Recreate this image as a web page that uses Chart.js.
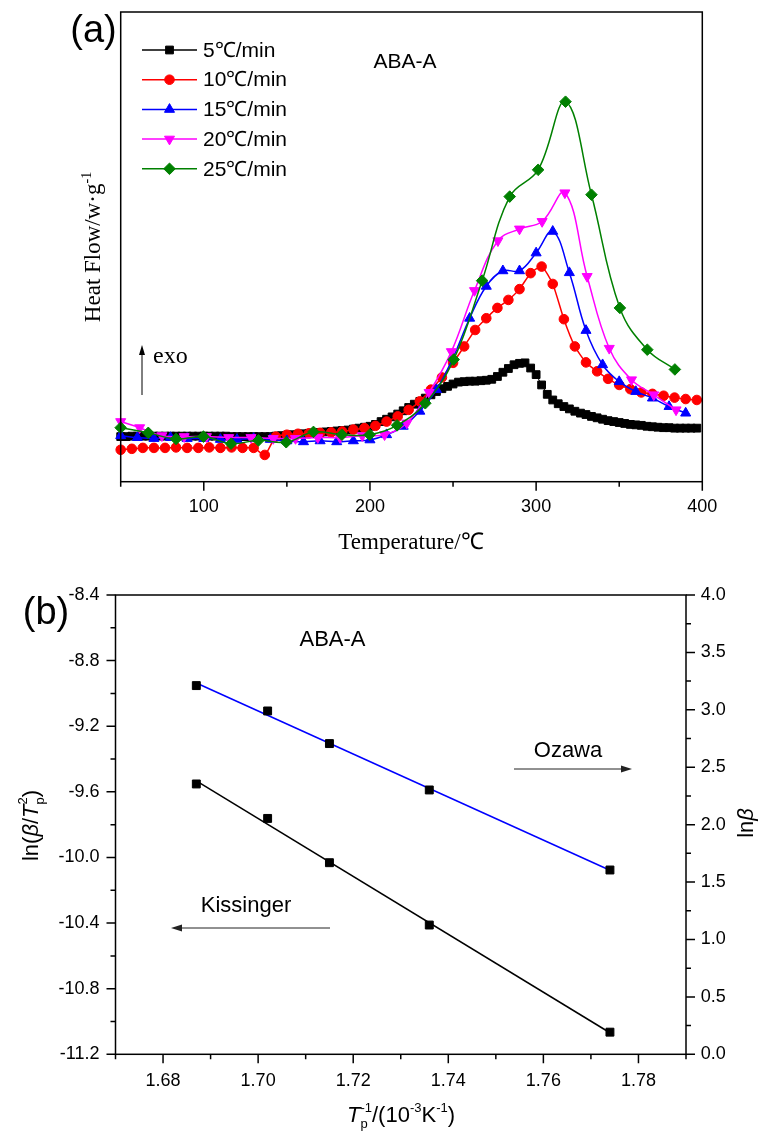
<!DOCTYPE html>
<html><head><meta charset="utf-8">
<script src="https://cdn.jsdelivr.net/npm/chart.js@4.4.1/dist/chart.umd.min.js"></script>
<style>
html,body{margin:0;padding:0;background:#fff;width:758px;height:1135px;overflow:hidden}
canvas{position:absolute;left:0}
#c1{top:0}
#c2{top:560px}
</style></head><body>
<canvas id="c1" width="758" height="560" style="width:758px;height:560px"></canvas>
<canvas id="c2" width="758" height="575" style="width:758px;height:575px"></canvas>
<script>
// ---------- DATA: panel (a) ----------
const rateLabels = ['5℃/min','10℃/min','15℃/min','20℃/min','25℃/min'];
const rateColors = ['#000000','#ff0000','#0000ff','#ff00ff','#008000'];
const temps5 = [50,53.3,56.7,60,63.3,66.7,70,73.3,76.7,80,83.3,86.7,90,93.3,96.7,100,103.3,106.7,110,113.3,116.7,120,123.3,126.7,130,133.3,136.7,140,143.3,146.7,150,153.3,156.7,160,163.3,166.7,170,173.3,176.7,180,183.3,186.7,190,193.3,196.7,200,203.3,206.7,210,213.3,216.7,220,223.3,226.7,230,233.3,236.7,240,243.3,246.7,250,253.3,256.7,260,263.3,266.7,270,273.3,276.7,280,283.3,286.7,290,293.3,296.7,300,303.3,306.7,310,313.3,316.7,320,323.3,326.7,330,333.3,336.7,340,343.3,346.7,350,353.3,356.7,360,363.3,366.7,370,373.3,376.7,380,383.3,386.7,390,393.3,396.7];
const heat5 = [9.6,9.6,9.7,9.7,9.7,9.7,9.7,9.7,9.7,9.7,
  9.7,9.7,9.7,9.7,9.7,9.7,9.7,9.7,9.7,9.7,
  9.6,9.6,9.6,9.6,9.6,9.6,9.6,9.6,9.7,9.8,
  9.9,10.0,10.1,10.2,10.3,10.4,10.5,10.6,10.7,10.8,
  10.9,11.0,11.2,11.4,11.6,11.8,12.2,12.8,13.3,13.8,
  14.4,15.1,15.8,16.5,17.1,17.8,18.5,19.2,19.8,20.3,
  20.8,21.2,21.3,21.4,21.4,21.5,21.6,21.8,22.4,23.3,
  24.1,24.9,25.2,25.3,24.2,22.8,20.6,18.6,17.4,16.6,
  16.0,15.5,15.0,14.6,14.3,13.9,13.6,13.3,13.0,12.8,
  12.6,12.4,12.2,12.1,12.0,11.8,11.7,11.6,11.5,11.5,
  11.4,11.4,11.4,11.4,11.4];
const temps10 = [50,56.7,63.3,70,76.7,83.3,90,96.7,103.3,110,116.7,123.3,130,136.7,143.3,150,156.7,163.3,170,176.7,183.3,190,196.7,203.3,210,216.7,223.3,230,236.7,243.3,250,256.7,263.3,270,276.7,283.3,290,296.7,303.3,310,316.7,323.3,330,336.7,343.3,350,356.7,363.3,370,376.7,383.3,390,396.7];
const heat10 = [6.8,7.0,7.2,7.2,7.2,7.3,7.2,7.2,7.3,7.2,7.3,7.2,7.2,5.7,
  9.6,10.0,10.2,10.3,10.4,10.5,10.7,11.1,11.4,11.9,12.8,13.9,15.3,17.1,19.6,22.2,
  25.3,28.8,32.3,34.8,37.0,38.7,41.0,44.4,45.8,42.1,34.6,28.8,25.4,23.5,21.9,20.6,
  19.7,19.0,18.7,18.3,17.9,17.6,17.4];
const temps15 = [50,60,70,80,90,100,110,120,130,140,150,160,170,180,190,200,210,220,230,240,250,260,270,280,290,300,310,320,330,340,350,360,370,380,390];
const heat15 = [9.8,9.4,9.2,9.4,9.2,9.2,9.0,9.0,9.2,9.0,8.7,8.5,8.7,8.5,8.7,8.9,10.0,11.8,15.0,19.6,26.4,34.8,41.6,44.9,44.9,48.7,53.3,44.5,32.2,24.9,21.3,19.2,17.8,16.0,14.6];
const temps20 = [50,61.4,74.8,88.2,101.6,115,128.4,141.8,155.2,168.6,182,195.4,208.8,222.2,235.6,249,262.9,277,290,303.6,317.3,330.7,344,357.4,370.8,384.2];
const heat20 = [12.8,11.5,9.8,9.6,9.6,9.4,9.4,9.2,9.2,9.4,9.4,9.8,10.0,12.5,19.0,27.7,40.7,51.3,53.8,55.4,61.5,43.7,28.4,21.7,18.5,15.3];
const temps25 = [50,66.6,83.3,99.8,116.4,132.9,149.6,166,183.1,199.8,216.3,233.3,250.4,267.5,284.1,301.2,317.7,333.3,350.4,366.9,383.5];
const heat25 = [11.5,10.4,9.1,9.6,8.1,8.8,8.4,10.6,10.0,10.0,12.0,16.7,26.0,42.8,60.7,66.4,80.9,61.1,37.0,28.1,23.9];
const topXTicks = [100,200,300,400];
const topXMinor = [50,150,250,350];

// ---------- DATA: panel (b) ----------
const invTp = [1.687,1.702,1.715,1.736,1.774];
const kissinger = [-9.552,-9.762,-10.032,-10.412,-11.065];
const ozawa = [3.211,2.990,2.706,2.302,1.605];
const botXTicks = [1.68,1.70,1.72,1.74,1.76,1.78];
const botXMinor = [1.67,1.69,1.71,1.73,1.75,1.77,1.79];
const leftYTicks = [-8.4,-8.8,-9.2,-9.6,-10.0,-10.4,-10.8,-11.2];
const leftYMinor = [-8.6,-9.0,-9.4,-9.8,-10.2,-10.6,-11.0];
const rightYTicks = [0,0.5,1.0,1.5,2.0,2.5,3.0,3.5,4.0];
const rightYMinor = [0.25,0.75,1.25,1.75,2.25,2.75,3.25,3.75];

// ---------- helpers ----------
const SANS = "'Liberation Sans', Arial, sans-serif";
const SERIF = "'Liberation Serif', 'Times New Roman', serif";
function fnt(s){ return (s.italic?'italic ':'') + s.size + 'px ' + (s.family||SANS); }
function drawRich(ctx, segs, cx, cy, rot, align){
  ctx.save();
  ctx.translate(cx, cy);
  if (rot) ctx.rotate(rot);
  ctx.fillStyle = '#000';
  ctx.textBaseline = 'alphabetic';
  ctx.textAlign = 'left';
  let x = 0, held = null; const pos = [];
  for (const s of segs){
    ctx.font = fnt(s); const w = ctx.measureText(s.t).width;
    if (held){ pos.push(held.x); x = held.x + Math.max(held.w, w); held = null; }
    else if (s.hold){ pos.push(x); held = {x, w}; }
    else { pos.push(x); x += w; }
  }
  const off = align === 'left' ? 0 : -x/2;
  segs.forEach((s,i)=>{ ctx.font = fnt(s); ctx.fillText(s.t, off + pos[i], s.dy||0); });
  ctx.restore();
}
function arrow(ctx, x1, y1, x2, y2, head, hw, lw, col){
  ctx.save(); ctx.strokeStyle = col; ctx.fillStyle = col; ctx.lineWidth = lw;
  const a = Math.atan2(y2-y1, x2-x1);
  const bx = x2 - Math.cos(a)*head, by = y2 - Math.sin(a)*head;
  ctx.beginPath(); ctx.moveTo(x1,y1); ctx.lineTo(bx,by); ctx.stroke();
  ctx.beginPath(); ctx.moveTo(x2,y2);
  ctx.lineTo(bx - Math.sin(a)*hw, by + Math.cos(a)*hw);
  ctx.lineTo(bx + Math.sin(a)*hw, by - Math.cos(a)*hw);
  ctx.closePath(); ctx.fill(); ctx.restore();
}
function xy(xs, ys){ return xs.map((x,i)=>({x, y: ys[i]})); }
function linFit(xs, ys){
  const n = xs.length;
  const mx = xs.reduce((a,b)=>a+b,0)/n, my = ys.reduce((a,b)=>a+b,0)/n;
  let sxy = 0, sxx = 0;
  for (let i=0;i<n;i++){ sxy += (xs[i]-mx)*(ys[i]-my); sxx += (xs[i]-mx)*(xs[i]-mx); }
  const b = sxy/sxx, a = my - b*mx;
  const x0 = Math.min(...xs), x1 = Math.max(...xs);
  return [{x:x0, y:a+b*x0},{x:x1, y:a+b*x1}];
}
function tickLines(ctx, scale, vals, len, side){
  ctx.beginPath();
  for (const v of vals){
    const p = scale.getPixelForValue(v);
    if (side === 'bottom'){ ctx.moveTo(p, scale.top); ctx.lineTo(p, scale.top + len); }
    else if (side === 'left'){ ctx.moveTo(scale.right, p); ctx.lineTo(scale.right - len, p); }
    else { ctx.moveTo(scale.left, p); ctx.lineTo(scale.left + len, p); }
  }
  ctx.stroke();
}

// ---------- panel (a) ----------
const pointStyles = ['rect','circle','triangle','triangle','rectRot'];
const pointRots = [0,0,0,180,0];
const pointRadii = [5.5,4.8,5.8,5.8,5.8];
const seriesX = [temps5, temps10, temps15, temps20, temps25];
const seriesY = [heat5, heat10, heat15, heat20, heat25];
const tensions = [0, 0.2, 0.4, 0.4, 0.4];

const topPlugin = {
  id: 'topDeco',
  afterDatasetsDraw(chart){
    const {ctx, chartArea: ca, scales} = chart;
    ctx.save();
    ctx.strokeStyle = '#000'; ctx.lineWidth = 1.5;
    ctx.strokeRect(ca.left, ca.top, ca.right - ca.left, ca.bottom - ca.top);
    tickLines(ctx, scales.x, topXTicks, 9, 'bottom');
    tickLines(ctx, scales.x, topXMinor, 5, 'bottom');
    // legend
    chart.data.datasets.forEach((ds, i) => {
      const y = 50 + i*29.7;
      ctx.strokeStyle = ds.borderColor; ctx.lineWidth = 1.5;
      ctx.beginPath(); ctx.moveTo(142, y); ctx.lineTo(197, y); ctx.stroke();
      ctx.fillStyle = ds.pointBackgroundColor; ctx.strokeStyle = ds.borderColor; ctx.lineWidth = 1;
      Chart.helpers.drawPoint(ctx, {pointStyle: ds.pointStyle, radius: ds.pointRadius, rotation: ds.pointRotation, borderWidth: 1}, 169.5, y);
      ctx.fillStyle = '#000'; ctx.font = '21px ' + SANS; ctx.textBaseline = 'middle'; ctx.textAlign = 'left';
      ctx.fillText(ds.label, 203, y + 1);
    });
    // annotations
    ctx.fillStyle = '#000'; ctx.textBaseline = 'alphabetic'; ctx.textAlign = 'center';
    ctx.font = '21px ' + SANS; ctx.fillText('ABA-A', 405, 68);
    ctx.font = '38px ' + SANS; ctx.fillText('(a)', 93.5, 42);
    arrow(ctx, 142, 395, 142, 345, 10, 3, 1, '#000');
    ctx.textAlign = 'left'; ctx.font = '24px ' + SERIF; ctx.fillText('exo', 153, 363);
    ctx.restore();
    drawRich(ctx, [{t:'Temperature/℃', size:23, family:SERIF}], 411, 549, 0);
    drawRich(ctx, [{t:'Heat Flow/w·g', size:23, family:SERIF},{t:'-1', size:14, family:SERIF, dy:-9}], 100, 247, -Math.PI/2);
  }
};

new Chart(document.getElementById('c1'), {
  type: 'line',
  data: {
    datasets: seriesX.map((xs, i) => ({
      label: rateLabels[i],
      data: xy(xs, seriesY[i]),
      borderColor: rateColors[i],
      backgroundColor: rateColors[i],
      pointBackgroundColor: rateColors[i],
      pointBorderColor: rateColors[i],
      pointStyle: pointStyles[i],
      pointRotation: pointRots[i],
      pointRadius: pointRadii[i],
      pointBorderWidth: 1,
      borderWidth: i === 0 ? 1 : 1.5,
      tension: tensions[i],
      fill: false,
      clip: false,
      order: 5 - i
    }))
  },
  options: {
    responsive: false, animation: false, devicePixelRatio: 1,
    layout: { padding: { left: 120.7, right: 55.7, top: 12, bottom: 0 } },
    plugins: { legend: { display: false }, tooltip: { enabled: false } },
    scales: {
      x: {
        type: 'linear', min: 50, max: 400,
        grid: { display: false, drawTicks: false }, border: { display: false },
        afterBuildTicks: s => { s.ticks = topXTicks.map(v => ({ value: v })); },
        afterFit: s => { s.height = 78.3; },
        ticks: { autoSkip: false, maxRotation: 0, padding: 15, color: '#000', font: { family: SANS, size: 18 }, callback: v => String(v) }
      },
      y: { type: 'linear', min: 0, max: 100, display: false }
    }
  },
  plugins: [topPlugin]
});

// ---------- panel (b) ----------
const botPlugin = {
  id: 'botDeco',
  afterDatasetsDraw(chart){
    const {ctx, chartArea: ca, scales} = chart;
    ctx.save();
    ctx.strokeStyle = '#000'; ctx.lineWidth = 1.5;
    ctx.strokeRect(ca.left, ca.top, ca.right - ca.left, ca.bottom - ca.top);
    tickLines(ctx, scales.x, botXTicks, 9, 'bottom');
    tickLines(ctx, scales.x, botXMinor, 5, 'bottom');
    tickLines(ctx, scales.y, leftYTicks, 9, 'left');
    tickLines(ctx, scales.y, leftYMinor, 5, 'left');
    tickLines(ctx, scales.y1, rightYTicks, 9, 'right');
    tickLines(ctx, scales.y1, rightYMinor, 5, 'right');
    ctx.fillStyle = '#000'; ctx.textBaseline = 'alphabetic'; ctx.textAlign = 'center';
    ctx.font = '38px ' + SANS; ctx.fillText('(b)', 46, 63.7);
    ctx.font = '22px ' + SANS; ctx.fillText('ABA-A', 332.5, 85.5);
    ctx.fillText('Ozawa', 568, 196.7);
    ctx.fillText('Kissinger', 246, 351.7);
    arrow(ctx, 514, 209, 632, 209, 11, 3.5, 1, '#222');
    arrow(ctx, 330, 368, 171, 368, 11, 3.5, 1, '#222');
    ctx.restore();
    drawRich(ctx, [
      {t:'T', size:22, italic:true},
      {t:'p', size:13, dy:6, hold:true},
      {t:'-1', size:13, dy:-10},
      {t:'/(10', size:22},
      {t:'-3', size:13, dy:-10},
      {t:'K', size:22},
      {t:'-1', size:13, dy:-10},
      {t:')', size:22}
    ], 401, 562, 0);
    drawRich(ctx, [
      {t:'ln(', size:22},
      {t:'β', size:22, italic:true},
      {t:'/', size:22},
      {t:'T', size:22, italic:true},
      {t:'p', size:13, dy:6, hold:true},
      {t:'2', size:13, dy:-11},
      {t:')', size:22}
    ], 38, 265.5, -Math.PI/2);
    drawRich(ctx, [{t:'ln', size:22},{t:'β', size:22, italic:true}], 753, 263, -Math.PI/2);
  }
};

new Chart(document.getElementById('c2'), {
  type: 'line',
  data: {
    datasets: [
      { label: 'Kissinger', data: xy(invTp, kissinger), yAxisID: 'y', showLine: false,
        pointStyle: 'rect', pointRadius: 5.6, pointBackgroundColor: '#000', pointBorderColor: '#000', pointBorderWidth: 1, borderColor: '#000', clip: false, order: 1 },
      { label: 'Kissinger fit', data: linFit(invTp, kissinger), yAxisID: 'y', borderColor: '#000', borderWidth: 1.5, pointRadius: 0, tension: 0, clip: false, order: 3 },
      { label: 'Ozawa', data: xy(invTp, ozawa), yAxisID: 'y1', showLine: false,
        pointStyle: 'rect', pointRadius: 5.6, pointBackgroundColor: '#000', pointBorderColor: '#000', pointBorderWidth: 1, borderColor: '#000', clip: false, order: 2 },
      { label: 'Ozawa fit', data: linFit(invTp, ozawa), yAxisID: 'y1', borderColor: '#0000ff', borderWidth: 1.5, pointRadius: 0, tension: 0, clip: false, order: 4 }
    ]
  },
  options: {
    responsive: false, animation: false, devicePixelRatio: 1,
    layout: { padding: { left: 0, right: 0, top: 35, bottom: 0 } },
    plugins: { legend: { display: false }, tooltip: { enabled: false } },
    scales: {
      x: {
        type: 'linear', min: 1.67, max: 1.79,
        grid: { display: false, drawTicks: false }, border: { display: false },
        afterBuildTicks: s => { s.ticks = botXTicks.map(v => ({ value: v })); },
        afterFit: s => { s.height = 80.7; },
        ticks: { autoSkip: false, maxRotation: 0, padding: 16, color: '#000', font: { family: SANS, size: 18 }, callback: v => v.toFixed(2) }
      },
      y: {
        type: 'linear', position: 'left', min: -11.2, max: -8.4,
        grid: { display: false, drawTicks: false }, border: { display: false },
        afterBuildTicks: s => { s.ticks = leftYTicks.map(v => ({ value: v })); },
        afterFit: s => { s.width = 115.5; },
        ticks: { autoSkip: false, padding: 16, color: '#000', font: { family: SANS, size: 18 }, callback: v => v.toFixed(1) }
      },
      y1: {
        type: 'linear', position: 'right', min: 0, max: 4,
        grid: { display: false, drawTicks: false }, border: { display: false },
        afterBuildTicks: s => { s.ticks = rightYTicks.map(v => ({ value: v })); },
        afterFit: s => { s.width = 72; },
        ticks: { autoSkip: false, padding: 14.7, color: '#000', font: { family: SANS, size: 18 }, callback: v => v.toFixed(1) }
      }
    }
  },
  plugins: [botPlugin]
});
</script>
</body></html>
